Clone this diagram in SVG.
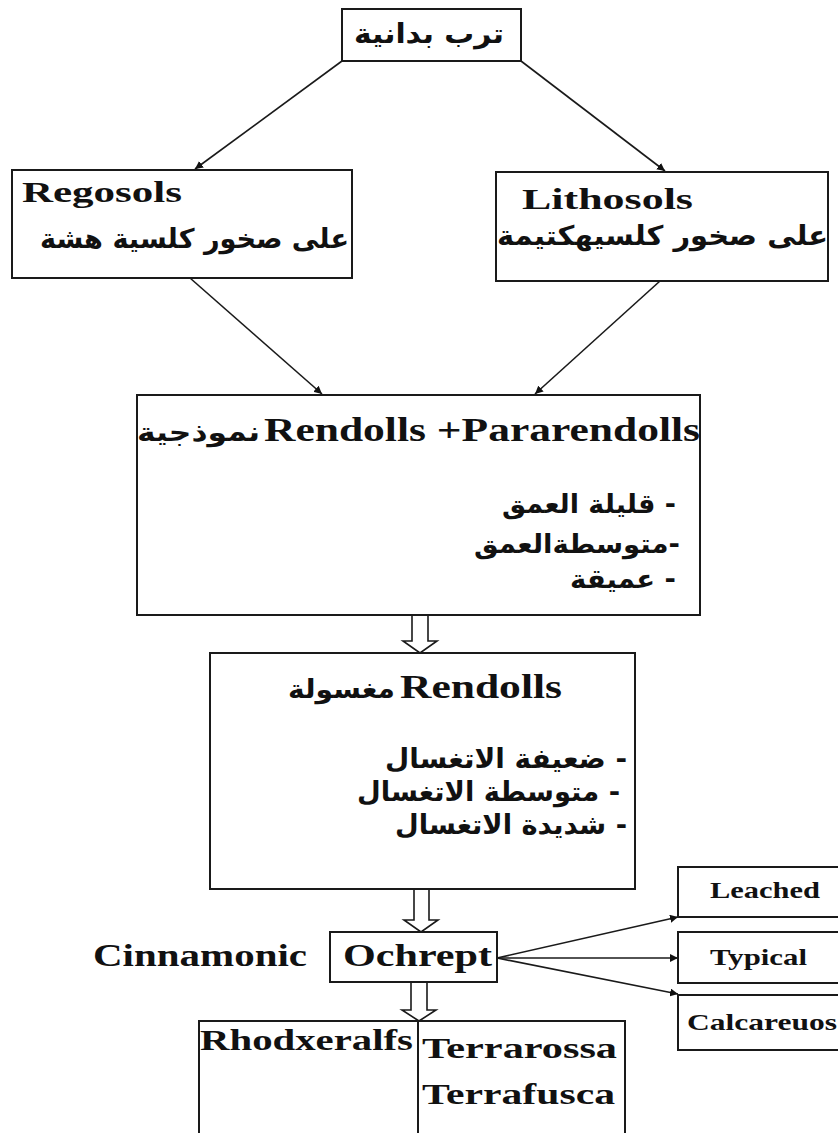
<svg xmlns="http://www.w3.org/2000/svg" width="838" height="1133" viewBox="0 0 838 1133">
<style>
.box{fill:none;stroke:#1a1a1a;stroke-width:2}
.ln{stroke:#1a1a1a;stroke-width:1.6;fill:none}
.dbl{fill:#fff;stroke:#1a1a1a;stroke-width:1.6}
.en{font-family:"Liberation Serif","Times New Roman",serif;font-weight:bold;fill:#111}
.ar{font-family:"DejaVu Sans","Noto Sans",sans-serif;font-weight:bold;fill:#111}
</style>
<defs>
<marker id="ah" viewBox="0 0 10 10" refX="10" refY="5" markerWidth="8" markerHeight="8" markerUnits="userSpaceOnUse" orient="auto">
<path d="M0,0 L10,5 L0,10 z" fill="#111"/>
</marker>
</defs>
<rect width="838" height="1133" fill="#fff"/>

<g id="connectors">
<line class="ln" x1="342" y1="61" x2="195" y2="169" marker-end="url(#ah)"/>
<line class="ln" x1="521" y1="61" x2="665" y2="171" marker-end="url(#ah)"/>
<line class="ln" x1="190" y1="278" x2="322" y2="394" marker-end="url(#ah)"/>
<line class="ln" x1="660" y1="281" x2="535" y2="394" marker-end="url(#ah)"/>
<path class="dbl" d="M412,615 V641 H403 L420,653 L437,641 H428 V615"/>
<path class="dbl" d="M414,889 V920 H404 L421,932 L438,920 H429 V889"/>
<path class="dbl" d="M411,982 V1010 H402 L419,1021 L436,1010 H427 V982"/>
<line class="ln" x1="497" y1="958" x2="678" y2="917" marker-end="url(#ah)"/>
<line class="ln" x1="497" y1="958" x2="678" y2="958" marker-end="url(#ah)"/>
<line class="ln" x1="497" y1="958" x2="678" y2="994" marker-end="url(#ah)"/>
</g>

<g id="n-top">
<rect class="box" x="342" y="9" width="179" height="52"/>
<text class="ar" x="354" y="43" font-size="27" textLength="150" lengthAdjust="spacingAndGlyphs">ترب بدانية</text>
</g>

<g id="n-regosols">
<rect class="box" x="12" y="170" width="340" height="108"/>
<text class="en" x="22" y="202" font-size="29" textLength="160" lengthAdjust="spacingAndGlyphs">Regosols</text>
<text class="ar" x="40" y="248" font-size="27" textLength="309" lengthAdjust="spacingAndGlyphs">على صخور كلسية هشة</text>
</g>

<g id="n-lithosols">
<rect class="box" x="496" y="172" width="332" height="109"/>
<text class="en" x="522" y="209" font-size="29" textLength="171" lengthAdjust="spacingAndGlyphs">Lithosols</text>
<text class="ar" x="497" y="245" font-size="27" textLength="331" lengthAdjust="spacingAndGlyphs">على صخور كلسيهكتيمة</text>
</g>

<g id="n-rendolls-para">
<rect class="box" x="137" y="395" width="563" height="220"/>
<text class="ar" x="137" y="441" font-size="26" textLength="123" lengthAdjust="spacingAndGlyphs">نموذجية</text>
<text class="en" x="264" y="441" font-size="33" textLength="436" lengthAdjust="spacingAndGlyphs">Rendolls +Pararendolls</text>
<text class="ar" x="502" y="513" font-size="26" textLength="174" lengthAdjust="spacingAndGlyphs">&#x200F;- قليلة العمق</text>
<text class="ar" x="474" y="553" font-size="26" textLength="206" lengthAdjust="spacingAndGlyphs">&#x200F;-متوسطةالعمق</text>
<text class="ar" x="570" y="588" font-size="26" textLength="106" lengthAdjust="spacingAndGlyphs">&#x200F;- عميقة</text>
</g>

<g id="n-rendolls">
<rect class="box" x="210" y="653" width="425" height="236"/>
<text class="ar" x="288" y="698" font-size="26" textLength="107" lengthAdjust="spacingAndGlyphs">مغسولة</text>
<text class="en" x="400" y="698" font-size="33" textLength="162" lengthAdjust="spacingAndGlyphs">Rendolls</text>
<text class="ar" x="385" y="768" font-size="27" textLength="242" lengthAdjust="spacingAndGlyphs">&#x200F;- ضعيفة الاتغسال</text>
<text class="ar" x="357" y="801" font-size="27" textLength="263" lengthAdjust="spacingAndGlyphs">&#x200F;- متوسطة الاتغسال</text>
<text class="ar" x="395" y="834" font-size="27" textLength="232" lengthAdjust="spacingAndGlyphs">&#x200F;- شديدة الاتغسال</text>
</g>

<g id="n-cinnamonic">
<text class="en" x="93" y="966" font-size="31" textLength="214" lengthAdjust="spacingAndGlyphs">Cinnamonic</text>
</g>

<g id="n-ochrept">
<rect class="box" x="330" y="932" width="167" height="50"/>
<text class="en" x="343" y="966" font-size="31" textLength="149" lengthAdjust="spacingAndGlyphs">Ochrept</text>
</g>

<g id="n-leached">
<rect class="box" x="678" y="867" width="170" height="50"/>
<text class="en" x="710" y="898" font-size="23" textLength="110" lengthAdjust="spacingAndGlyphs">Leached</text>
</g>

<g id="n-typical">
<rect class="box" x="678" y="932" width="170" height="51"/>
<text class="en" x="710" y="965" font-size="23" textLength="97" lengthAdjust="spacingAndGlyphs">Typical</text>
</g>

<g id="n-calcareuos">
<rect class="box" x="678" y="995" width="170" height="55"/>
<text class="en" x="687" y="1030" font-size="23" textLength="150" lengthAdjust="spacingAndGlyphs">Calcareuos</text>
</g>

<g id="n-rhodxeralfs">
<rect class="box" x="199" y="1021" width="219" height="130"/>
<text class="en" x="200" y="1050" font-size="30" textLength="213" lengthAdjust="spacingAndGlyphs">Rhodxeralfs</text>
</g>

<g id="n-terra">
<rect class="box" x="418" y="1021" width="207" height="130"/>
<text class="en" x="422" y="1058" font-size="30" textLength="195" lengthAdjust="spacingAndGlyphs">Terrarossa</text>
<text class="en" x="422" y="1104" font-size="30" textLength="193" lengthAdjust="spacingAndGlyphs">Terrafusca</text>
</g>
</svg>
